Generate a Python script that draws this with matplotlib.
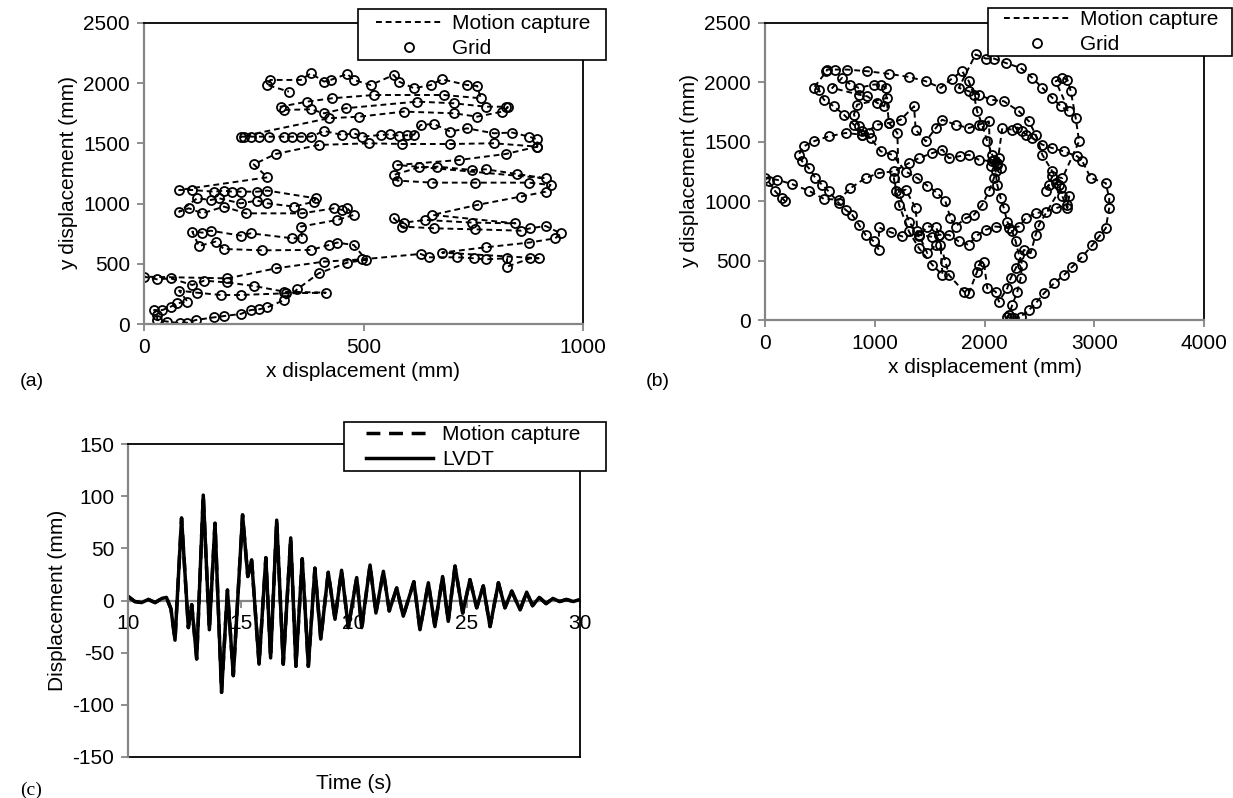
import matplotlib
matplotlib.use('Agg')
import matplotlib.pyplot as plt
from matplotlib.patches import Rectangle
import numpy as np

plt.rcParams['font.family'] = ['Liberation Sans', 'DejaVu Sans']
plt.rcParams['font.size'] = 15
plt.rcParams['axes.unicode_minus'] = False

GREY = '#868686'
W, H = 1233, 798

# ---------------- (a) small table trajectory, (x, y) in mm ----------------
# lower-right block + curve coming from the left (drawn in reverse)
a_right = [(190, 379), (300, 462), (410, 518), (497, 537),
           (630, 582), (649, 554), (714, 554), (751, 546), (778, 537), (827, 546), (827, 476),
           (880, 546), (899, 546), (679, 593), (778, 637), (877, 676), (937, 712), (949, 753),
           (915, 814), (880, 795), (858, 775), (755, 786), (660, 795), (588, 809), (569, 878),
           (592, 842), (641, 864), (748, 842), (846, 836), (657, 906), (759, 989), (858, 1058),
           (915, 1099), (926, 1155), (877, 1174), (755, 1174), (657, 1174), (577, 1191), (569, 1238),
           (626, 1301), (668, 1307), (748, 1279), (778, 1285), (850, 1246), (915, 1210),
           (577, 1321), (717, 1362), (824, 1412), (896, 1473)]
# start row, bottom loop, left block and S curve
a_left = [(0, 393), (30, 371), (61, 379), (110, 324), (137, 360), (190, 345), (250, 316), (319, 269),
          (414, 260), (323, 255), (220, 241), (175, 241), (121, 260), (80, 277), (99, 186), (76, 172),
          (61, 144), (42, 116), (23, 116), (30, 75), (30, 33), (53, 20), (83, 6), (99, 11), (118, 33),
          (159, 55), (182, 66), (220, 83), (243, 116), (262, 122), (281, 138), (319, 199), (349, 288),
          (398, 421), (463, 510), (506, 533),
          (478, 656), (440, 676), (421, 656), (380, 615), (269, 612), (182, 623), (163, 684), (125, 648),
          (110, 767), (133, 759), (152, 775), (220, 734), (243, 753), (338, 712), (360, 712), (357, 809),
          (440, 864), (478, 906), (463, 961), (452, 947), (433, 961), (360, 919), (232, 919), (182, 975),
          (133, 919), (102, 961), (80, 933), (121, 1044), (152, 1030), (171, 1044), (220, 1002),
          (258, 1025), (281, 1002), (342, 975), (387, 1016), (391, 1044), (281, 1108), (258, 1099),
          (220, 1099), (201, 1099), (182, 1108), (159, 1099), (110, 1113), (80, 1113),
          (281, 1218), (250, 1326), (300, 1412), (398, 1487), (512, 1501), (588, 1495), (698, 1495),
          (797, 1501), (896, 1473)]
# upper band
a_top = [(896, 1534), (877, 1556), (839, 1590), (797, 1584), (736, 1625), (698, 1598), (660, 1661),
         (630, 1653), (615, 1572), (600, 1568), (580, 1565), (560, 1575), (539, 1570), (497, 1556),
         (478, 1584), (452, 1570), (410, 1603), (380, 1556), (357, 1556), (338, 1556), (319, 1556),
         (285, 1556), (262, 1556), (243, 1556), (228, 1556), (220, 1556),
         (421, 1709), (490, 1722), (592, 1764), (706, 1750), (759, 1722), (816, 1764), (829, 1800),
         (824, 1805), (778, 1805), (706, 1833), (622, 1847), (459, 1792), (410, 1750), (380, 1783),
         (319, 1778), (311, 1805), (372, 1847), (429, 1875), (524, 1902), (683, 1902), (767, 1875),
         (759, 1977), (736, 1985), (679, 2032), (653, 1985), (615, 1958), (581, 2013), (569, 2068),
         (516, 1985), (478, 2027), (463, 2077), (425, 2027), (410, 2013), (380, 2082), (357, 2027),
         (288, 2027), (281, 1985), (330, 1930)]

# ---------------- (b) large table trajectory, (x, y) in mm ----------------
b_tail = [(186, 998), (155, 1026), (94, 1082), (33, 1166), (3, 1195)]
b_mid = [(110, 1180), (247, 1144), (399, 1088), (536, 1020), (673, 1012), (779, 1110), (916, 1195),
         (1038, 1237), (1175, 1251), (1312, 1321), (1403, 1363), (1525, 1405), (1617, 1434),
         (1675, 1363), (1780, 1380), (1857, 1391), (1949, 1349), (2070, 1335), (2116, 1321)]
b_up = [(2070, 1391), (2025, 1504), (1979, 1644), (1933, 1757), (1903, 1897), (1857, 2010), (1796, 2094)]
b_top = [(1700, 2030), (1601, 1954), (1464, 2010), (1312, 2046), (1129, 2072), (931, 2094),
         (749, 2108), (642, 2108), (566, 2108), (559, 2092)]
b_arc = [(444, 1954), (490, 1940), (536, 1855), (627, 1799), (718, 1729), (810, 1644), (886, 1588),
         (962, 1532), (1053, 1420), (1160, 1391), (1282, 1250), (1388, 1195), (1480, 1130),
         (1571, 1068), (1644, 998), (1690, 857), (1736, 787), (1827, 857), (1903, 885), (1979, 970),
         (2040, 1082), (2086, 1195), (2116, 1307)]
b_east = [(2162, 1616), (2253, 1602), (2300, 1620), (2344, 1588), (2380, 1560), (2436, 1532),
          (2527, 1476), (2618, 1447), (2725, 1419), (2847, 1377)]
b_rloop = [(2892, 1335), (2969, 1195), (3105, 1152), (3136, 1026), (3136, 941), (3105, 773),
           (3045, 703), (2984, 632), (2892, 534), (2801, 450), (2725, 379), (2634, 309), (2542, 225),
           (2466, 140), (2405, 84), (2329, 28), (2268, 14), (2238, 14), (2207, 28)]
b_rise = [(2223, 42), (2253, 127), (2299, 239), (2329, 351), (2344, 464), (2314, 548), (2284, 661),
          (2253, 745), (2207, 829), (2177, 941), (2147, 1026), (2116, 1138), (2101, 1251),
          (2147, 1280), (2131, 1363), (2086, 1349), (2055, 1300)]
b_west = [(2040, 1672), (1949, 1644), (1857, 1616), (1736, 1644), (1614, 1686), (1556, 1616),
          (1464, 1504), (1373, 1602), (1358, 1799), (1236, 1686), (1129, 1658), (1023, 1644),
          (886, 1560), (734, 1574), (581, 1546), (444, 1504), (353, 1462)]
b_loopl = [(307, 1391), (338, 1335), (399, 1279), (460, 1195), (520, 1138), (581, 1082), (673, 984),
           (734, 928), (795, 885), (855, 801), (916, 717), (992, 661), (1038, 590)]
b_low = [(1038, 779), (1145, 739), (1251, 703), (1403, 717), (1525, 700), (1586, 717), (1675, 717),
         (1766, 661), (1857, 632), (1918, 703), (2010, 759), (2101, 787), (2223, 773), (2314, 787),
         (2375, 857), (2466, 899), (2558, 913), (2649, 941), (2755, 970), (2771, 1040)]
b_diag = [(2755, 941), (2710, 1040), (2680, 1138), (2618, 1251), (2527, 1391), (2466, 1560),
          (2405, 1672), (2314, 1757), (2177, 1841), (2055, 1855), (1949, 1897), (1857, 1926), (1766, 1954)]
b_arc2 = [(1918, 2235), (2010, 2201), (2086, 2201), (2192, 2164), (2329, 2122), (2436, 2038),
          (2527, 1954), (2618, 1869), (2695, 1799), (2771, 1757)]
b_redge = [(2649, 2010), (2710, 2038), (2755, 2024), (2786, 1926), (2831, 1700), (2862, 1504)]
b_knot = [(2710, 1195), (2618, 1209), (2558, 1082), (2588, 1138), (2649, 1152), (2695, 1110)]
b_down = [(2497, 801), (2466, 717), (2420, 562), (2360, 590), (2284, 435), (2238, 351), (2207, 267),
          (2131, 155), (2101, 239), (2025, 267), (1994, 492), (1949, 464), (1933, 408), (1857, 225),
          (1812, 239), (1675, 380), (1644, 492), (1599, 632)]
b_diag2 = [(1617, 380), (1525, 464), (1403, 604), (1312, 745), (1221, 970), (1175, 1195)]
b_loop3 = [(1190, 1082), (1282, 1096), (1373, 941), (1388, 745), (1479, 562), (1556, 632),
           (1586, 717), (1556, 787), (1479, 787), (1403, 703), (1312, 829), (1221, 1068)]
b_loop4 = [(1206, 1574), (1129, 1658), (1099, 1954), (1053, 1982), (992, 1982), (855, 1954),
           (779, 1982), (703, 2038), (612, 1954), (855, 1897), (931, 1883), (1023, 1827),
           (1084, 1799), (1114, 1869), (840, 1813), (810, 1729), (855, 1630), (886, 1560), (947, 1574)]

# ---------------- (c) displacement history (peaks / troughs) ----------------
time_s = [10.0, 10.3, 10.6, 10.9, 11.2, 11.5, 11.7, 11.9, 12.08, 12.37, 12.67, 12.82, 13.04, 13.33,
          13.6, 13.85, 14.14, 14.4, 14.66, 15.07, 15.3, 15.47, 15.8, 16.1, 16.31, 16.58, 16.87, 17.2,
          17.43, 17.71, 17.98, 18.27, 18.53, 18.86, 19.16, 19.45, 19.75, 20.12, 20.34, 20.71, 20.97,
          21.3, 21.56, 21.89, 22.18, 22.65, 22.92, 23.29, 23.58, 23.92, 24.17, 24.47, 24.81, 25.13,
          25.43, 25.72, 26.02, 26.39, 26.68, 26.98, 27.35, 27.64, 27.9, 28.2, 28.5, 28.8, 29.1, 29.4,
          29.7, 30.0]
lvdt_mm = [4, -1, -2, 1, -2, 2, 3, -8, -38, 79, -26, -4, -56, 101, -28, 74, -88, 10, -72, 82, 23, 39,
           -61, 41, -55, 77, -61, 60, -63, 40, -63, 31, -37, 27, -18, 29, -26, 22, -26, 34, -12, 28,
           -10, 12, -15, 18, -28, 17, -25, 23, -20, 33, -12, 20, -7, 14, -25, 17, -7, 9, -9, 8, -5, 3,
           -3, 2, -1, 1, -1, 1]
mocap_mm = lvdt_mm


def xy(*segs):
    pts = np.array([p for s in segs for p in s], dtype=float)
    return pts[:, 0], pts[:, 1]


def frame(ax):
    for s in ['left', 'bottom']:
        ax.spines[s].set_color(GREY)
        ax.spines[s].set_linewidth(1.6)
    for s in ['top', 'right']:
        ax.spines[s].set_color('k')
        ax.spines[s].set_linewidth(1.3)
    ax.tick_params(direction='out', length=5, width=1.3, color=GREY, pad=5, labelsize=15)


def legend_box(ax, box, anchor):
    # white framed box in pixel coords, legend entries placed inside it
    x0, y0, x1, y1 = box
    fig.add_artist(Rectangle((x0 / W, 1 - y1 / H), (x1 - x0) / W, (y1 - y0) / H,
                             transform=fig.transFigure, facecolor='white', edgecolor='k',
                             lw=1.2, zorder=3))
    h, l = ax.get_legend_handles_labels()
    leg = fig.legend(h, l, loc='upper left', bbox_to_anchor=(anchor[0] / W, 1 - anchor[1] / H),
                     frameon=False, borderpad=0, borderaxespad=0, labelspacing=0.3,
                     handlelength=3.2, handletextpad=0.45, fontsize=15)
    leg.set_zorder(4)


fig = plt.figure(figsize=(W / 100, H / 100), dpi=100)

# (a)
ax = fig.add_axes([144 / W, 1 - 324 / H, 439 / W, 301 / H])
ax_x, ax_y = xy(a_right[::-1], a_left, a_top)
ax.plot(ax_x, ax_y, color='k', lw=1.4, ls=(0, (3, 2)), label='Motion capture')
ax.plot(ax_x, ax_y, 'o', mfc='none', mec='k', ms=6.5, mew=1.3, label='Grid')
ax.set_xlim(0, 1000)
ax.set_ylim(0, 2500)
ax.set_xticks([0, 500, 1000])
ax.set_yticks(range(0, 2501, 500))
ax.set_xlabel('x displacement (mm)')
ax.set_ylabel('y displacement (mm)')
frame(ax)
legend_box(ax, (358, 9, 606, 60), (376, 14))

# (b)
ax = fig.add_axes([765 / W, 1 - 320 / H, 439 / W, 297 / H])
bx, by = xy(b_tail, b_mid, b_up, b_top, b_arc, b_east, b_rloop, b_rise, b_west, b_loopl, b_low,
            b_diag, b_arc2, b_redge, b_knot, b_down, b_diag2, b_loop3, b_loop4)
ax.plot(bx, by, color='k', lw=1.4, ls=(0, (3, 2)), label='Motion capture')
ax.plot(bx, by, 'o', mfc='none', mec='k', ms=6.5, mew=1.3, label='Grid')
ax.set_xlim(0, 4000)
ax.set_ylim(0, 2500)
ax.set_xticks(range(0, 4001, 1000))
ax.set_yticks(range(0, 2501, 500))
ax.set_xlabel('x displacement (mm)')
ax.set_ylabel('y displacement (mm)')
frame(ax)
legend_box(ax, (988, 8, 1232, 56), (1004, 10))

# (c)
ax = fig.add_axes([128 / W, 1 - 757 / H, 452 / W, 313 / H])
ax.plot(time_s, mocap_mm, color='k', lw=2.5, ls=(0, (4, 2.5)), label='Motion capture')
ax.plot(time_s, lvdt_mm, color='k', lw=2.5, solid_joinstyle='round', label='LVDT')
ax.set_xlim(10, 30)
ax.set_ylim(-150, 150)
ax.set_xticks(range(10, 31, 5))
ax.set_yticks(range(-150, 151, 50))
frame(ax)
ax.spines['bottom'].set_position(('data', 0))
ax.spines['bottom'].set_zorder(1)
ax.axhline(-150, color='k', lw=1.3, clip_on=False)
ax.set_xlabel('Time (s)')
ax.xaxis.set_label_coords(0.5, -0.055)
ax.set_ylabel('Displacement (mm)')
legend_box(ax, (344, 422, 606, 471), (366, 425))

fig.text(20 / W, 1 - 381 / H, '(a)', ha='left', va='center', fontsize=14)
fig.text(646 / W, 1 - 381 / H, '(b)', ha='left', va='center', fontsize=14)
fig.text(20 / W, 1 - 790 / H, '(c)', ha='left', va='center', fontsize=14, family='Liberation Serif')

fig.savefig('out.png', dpi=100)
